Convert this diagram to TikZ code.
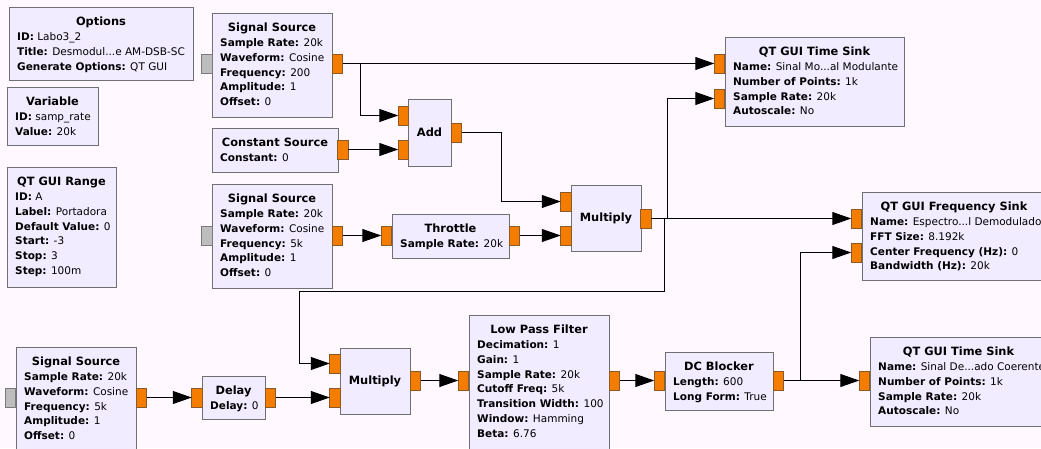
\documentclass[tikz,border=0pt]{standalone}
\usepackage{fontspec}
\setmainfont{DejaVu Sans}
\usetikzlibrary{arrows.meta}
\definecolor{bgc}{HTML}{FFF9FF}
\definecolor{blkfill}{HTML}{F1ECFF}
\definecolor{blkdraw}{HTML}{707070}
\definecolor{portor}{HTML}{F47D00}
\definecolor{portordraw}{HTML}{8C5A28}
\definecolor{portgr}{HTML}{BDBDBD}
\definecolor{portgrdraw}{HTML}{7A7A7A}
\tikzset{
  blk/.style={draw=blkdraw, fill=blkfill, line width=1pt, anchor=north west, inner sep=0pt, outer sep=0pt},
  oport/.style={draw=portordraw, fill=portor, line width=0.8pt, minimum width=10.5pt, minimum height=19pt, inner sep=0pt, outer sep=0pt},
  gport/.style={draw=portgrdraw, fill=portgr, line width=0.8pt, minimum width=10.5pt, minimum height=19pt, inner sep=0pt, outer sep=0pt},
  ttl/.style={font=\fontsize{11.4}{13}\selectfont\bfseries, anchor=base, inner sep=0pt},
  prm/.style={font=\fontsize{10.5}{12}\selectfont, anchor=base west, inner sep=0pt},
  wire/.style={draw=black, line width=1pt, -{Triangle[length=19pt,width=13pt]}}
}
\newcommand{\blockat}[5]{\node[blk, minimum width=#4pt, minimum height=#5pt] (#1) at (#2,#3) {};}
\newcommand{\ttlat}[2]{\node[ttl] (#1-t) at ([yshift=-18.5pt]#1.north) {#2};}
\newcommand{\ctrttl}[2]{\node[ttl, anchor=center] (#1-t) at (#1.center) {#2};}
\newcommand{\prmat}[4]{\node[prm] (#1-p#2) at ([xshift=8pt,yshift={-(33.5+14.8*(#2-1))*1pt}]#1.north west) {\textbf{#3} #4};}
\newcommand{\oportat}[3]{\node[oport] (#1) at (#2,#3) {};}
\newcommand{\gportat}[3]{\node[gport] (#1) at (#2,#3) {};}
\begin{document}
\begin{tikzpicture}[x=1pt,y=-1pt]
\useasboundingbox (0,0) rectangle (1041,448);
\fill[bgc] (0,0) rectangle (1041,448);

% Options
\blockat{opt}{9}{7}{184}{73}
\ttlat{opt}{Options}
\prmat{opt}{1}{ID:}{Labo3\_2}
\prmat{opt}{2}{Title:}{Desmodul...e AM-DSB-SC}
\prmat{opt}{3}{Generate Options:}{QT GUI}

% Variable
\blockat{var}{7}{87}{91}{58}
\ttlat{var}{Variable}
\prmat{var}{1}{ID:}{samp\_rate}
\prmat{var}{2}{Value:}{20k}

% QT GUI Range
\blockat{rng}{7}{167}{109}{120}
\ttlat{rng}{QT GUI Range}
\prmat{rng}{1}{ID:}{A}
\prmat{rng}{2}{Label:}{Portadora}
\prmat{rng}{3}{Default Value:}{0}
\prmat{rng}{4}{Start:}{-3}
\prmat{rng}{5}{Stop:}{3}
\prmat{rng}{6}{Step:}{100m}

% Signal Source 1
\blockat{ss1}{212}{13}{120}{104}
\ttlat{ss1}{Signal Source}
\prmat{ss1}{1}{Sample Rate:}{20k}
\prmat{ss1}{2}{Waveform:}{Cosine}
\prmat{ss1}{3}{Frequency:}{200}
\prmat{ss1}{4}{Amplitude:}{1}
\prmat{ss1}{5}{Offset:}{0}

% Constant Source
\blockat{cst}{212}{128}{126}{44}
\ttlat{cst}{Constant Source}
\prmat{cst}{1}{Constant:}{0}

% Signal Source 2
\blockat{ss2}{212}{184}{120}{104}
\ttlat{ss2}{Signal Source}
\prmat{ss2}{1}{Sample Rate:}{20k}
\prmat{ss2}{2}{Waveform:}{Cosine}
\prmat{ss2}{3}{Frequency:}{5k}
\prmat{ss2}{4}{Amplitude:}{1}
\prmat{ss2}{5}{Offset:}{0}

% Add
\blockat{add}{408}{99}{43}{67}
\ctrttl{add}{Add}

% Throttle
\blockat{thr}{392}{214}{117}{44}
\ttlat{thr}{Throttle}
\prmat{thr}{1}{Sample Rate:}{20k}

% Multiply 1
\blockat{m1}{571}{185}{70}{66}
\ctrttl{m1}{Multiply}

% QT GUI Time Sink 1
\blockat{ts1}{725}{37}{179}{89}
\ttlat{ts1}{QT GUI Time Sink}
\prmat{ts1}{1}{Name:}{Sinal Mo...al Modulante}
\prmat{ts1}{2}{Number of Points:}{1k}
\prmat{ts1}{3}{Sample Rate:}{20k}
\prmat{ts1}{4}{Autoscale:}{No}

% QT GUI Frequency Sink
\blockat{fs}{862}{192}{184}{88}
\ttlat{fs}{QT GUI Frequency Sink}
\prmat{fs}{1}{Name:}{Espectro...l Demodulado}
\prmat{fs}{2}{FFT Size:}{8.192k}
\prmat{fs}{3}{Center Frequency (Hz):}{0}
\prmat{fs}{4}{Bandwidth (Hz):}{20k}

% Signal Source 3
\blockat{ss3}{16}{347}{120}{104}
\ttlat{ss3}{Signal Source}
\prmat{ss3}{1}{Sample Rate:}{20k}
\prmat{ss3}{2}{Waveform:}{Cosine}
\prmat{ss3}{3}{Frequency:}{5k}
\prmat{ss3}{4}{Amplitude:}{1}
\prmat{ss3}{5}{Offset:}{0}

% Delay
\blockat{dly}{202}{376}{63}{43}
\ttlat{dly}{Delay}
\prmat{dly}{1}{Delay:}{0}

% Multiply 2
\blockat{m2}{340}{348}{70}{66}
\ctrttl{m2}{Multiply}

% Low Pass Filter
\blockat{lpf}{469}{315}{140}{148}
\ttlat{lpf}{Low Pass Filter}
\prmat{lpf}{1}{Decimation:}{1}
\prmat{lpf}{2}{Gain:}{1}
\prmat{lpf}{3}{Sample Rate:}{20k}
\prmat{lpf}{4}{Cutoff Freq:}{5k}
\prmat{lpf}{5}{Transition Width:}{100}
\prmat{lpf}{6}{Window:}{Hamming}
\prmat{lpf}{7}{Beta:}{6.76}

% DC Blocker
\blockat{dc}{665}{352}{108}{58}
\ttlat{dc}{DC Blocker}
\prmat{dc}{1}{Length:}{600}
\prmat{dc}{2}{Long Form:}{True}

% QT GUI Time Sink 2
\blockat{ts2}{870}{337}{177}{89}
\ttlat{ts2}{QT GUI Time Sink}
\prmat{ts2}{1}{Name:}{Sinal De...ado Coerente}
\prmat{ts2}{2}{Number of Points:}{1k}
\prmat{ts2}{3}{Sample Rate:}{20k}
\prmat{ts2}{4}{Autoscale:}{No}

% Ports
\gportat{ss1g}{207}{63.5}
\oportat{ss1o}{337.5}{63.5}
\oportat{cso}{343}{149.5}
\gportat{ss2g}{207}{235.5}
\oportat{ss2o}{337.5}{235.5}
\oportat{addi0}{403.5}{115.5}
\oportat{addi1}{403.5}{149.5}
\oportat{addo}{456.5}{132.5}
\oportat{thri}{386.5}{235.5}
\oportat{thro}{514.5}{235.5}
\oportat{m1i0}{566}{201.5}
\oportat{m1i1}{566}{235.5}
\oportat{m1o}{646}{218.5}
\oportat{ts1i0}{719.5}{63.5}
\oportat{ts1i1}{719.5}{98.5}
\oportat{fsi0}{856.5}{218.5}
\oportat{fsi1}{856.5}{252.5}
\gportat{ss3g}{10.5}{397.5}
\oportat{ss3o}{141.5}{397.5}
\oportat{dlyi}{197}{397.5}
\oportat{dlyo}{270.5}{397.5}
\oportat{m2i0}{335}{363.5}
\oportat{m2i1}{335}{397.5}
\oportat{m2o}{415.5}{380.5}
\oportat{lpfi}{463.5}{380.5}
\oportat{lpfo}{614.5}{380.5}
\oportat{dci}{659.5}{380.5}
\oportat{dco}{778.5}{380.5}
\oportat{ts2i}{864.5}{380.5}

\coordinate (j1) at (299,291);

% Connections
\draw[wire] (ss1o.east) -- (ts1i0.west);
\draw[wire] (ss1o.east) -- ++(18,0) |- (addi0.west);
\draw[wire] (cso.east) -- (addi1.west);
\draw[wire] (addo.east) -- ++(40,0) |- (m1i0.west);
\draw[wire] (ss2o.east) -- (thri.west);
\draw[wire] (thro.east) -- (m1i1.west);
\draw[wire] (m1o.east) -- (fsi0.west);
\draw[wire] (m1o.east) -- ++(16,0) |- (ts1i1.west);
\draw[wire] (m1o.east) -- ++(13,0) |- (j1) |- (m2i0.west);
\draw[wire] (ss3o.east) -- (dlyi.west);
\draw[wire] (dlyo.east) -- (m2i1.west);
\draw[wire] (m2o.east) -- (lpfi.west);
\draw[wire] (lpfo.east) -- (dci.west);
\draw[wire] (dco.east) -- (ts2i.west);
\draw[wire] (dco.east) -- ++(17,0) |- (fsi1.west);
\end{tikzpicture}
\end{document}
